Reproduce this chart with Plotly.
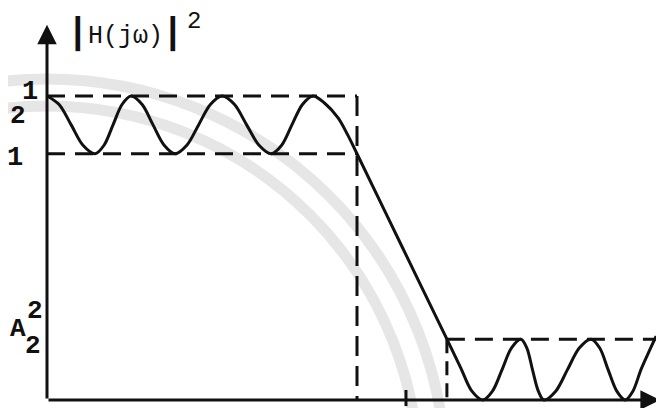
import plotly.graph_objects as go

# ---- data (normalised frequency, |H(jw)|^2) ----
omega = [0.0, 0.039, 0.078, 0.116, 0.155,
         0.184, 0.213, 0.242, 0.271,
         0.307, 0.342, 0.378, 0.413,
         0.451, 0.489, 0.527, 0.565,
         0.605, 0.644, 0.684, 0.723,
         0.757, 0.790, 0.824, 0.858,
         0.895, 0.939, 0.97, 1.0, 1.145, 1.29,
         1.335, 1.37, 1.406,
         1.437, 1.468, 1.498, 1.529,
         1.548, 1.566, 1.585, 1.603,
         1.641, 1.679, 1.717, 1.755,
         1.783, 1.810, 1.838, 1.865,
         1.89, 1.916, 1.94, 1.965]
mag = [1.0, 0.972, 0.905, 0.838, 0.81,
       0.838, 0.905, 0.972, 1.0,
       0.972, 0.905, 0.838, 0.81,
       0.838, 0.905, 0.972, 1.0,
       0.972, 0.905, 0.838, 0.81,
       0.838, 0.905, 0.972, 1.0,
       0.977, 0.928, 0.872, 0.81, 0.505, 0.2,
       0.105, 0.03, 0.0,
       0.029, 0.1, 0.171, 0.2,
       0.171, 0.1, 0.029, 0.0,
       0.029, 0.1, 0.171, 0.2,
       0.171, 0.1, 0.029, 0.0,
       0.029, 0.1, 0.155, 0.21]

pass_top = 1.0          # upper ripple level
pass_low = 0.81         # lower ripple level
stop_level = 0.2        # stop-band level
omega_p = 1.0           # pass-band edge
omega_s = 1.29          # stop-band edge
omega_tick = 1.158      # extra tick mark on the frequency axis
omega_end = 1.977       # end of frequency axis
mag_top = 1.234         # end of magnitude axis

W, H = 664, 408
X0 = [-39 / 310, 625 / 310]
Y0 = [-16 / 304, 392 / 304]


def px(x):
    return x / W


def py(y):
    return 1 - y / H


fig = go.Figure()

black = "#111111"
dash = "18px,10px"

# watermark arcs (drawn first, below everything)
for r in (399, 372):
    fig.add_shape(type="circle", xref="paper", yref="paper",
                  x0=px(39 - r), x1=px(39 + r), y0=py(470 + r), y1=py(470 - r),
                  line=dict(color="#e6e6e6", width=11), layer="below")

# dashed guide lines
fig.add_trace(go.Scatter(x=[0, omega_p], y=[pass_top, pass_top], mode="lines",
                         line=dict(color=black, width=3, dash=dash)))
fig.add_trace(go.Scatter(x=[0, omega_p], y=[pass_low, pass_low], mode="lines",
                         line=dict(color=black, width=3, dash=dash)))
fig.add_trace(go.Scatter(x=[omega_p, omega_p], y=[pass_top, 0], mode="lines",
                         line=dict(color=black, width=3, dash="20px,10px")))
fig.add_trace(go.Scatter(x=[omega_s, omega_end], y=[stop_level, stop_level], mode="lines",
                         line=dict(color=black, width=3, dash=dash)))
fig.add_trace(go.Scatter(x=[omega_s, omega_s], y=[stop_level, 0], mode="lines",
                         line=dict(color=black, width=3, dash="14px,8px")))
# small tick
fig.add_trace(go.Scatter(x=[omega_tick, omega_tick], y=[0.033, -0.02], mode="lines",
                         line=dict(color=black, width=3)))

# response curve
fig.add_trace(go.Scatter(x=omega, y=mag, mode="lines",
                         line=dict(color=black, width=3, shape="spline", smoothing=0.9)))

# axes with arrows
fig.add_annotation(x=0, y=mag_top, ax=0, ay=0, xref="x", yref="y", axref="x", ayref="y",
                   showarrow=True, arrowhead=2, arrowsize=1.3, arrowwidth=3,
                   arrowcolor=black, text="")
fig.add_annotation(x=omega_end, y=0, ax=0, ay=0, xref="x", yref="y", axref="x", ayref="y",
                   showarrow=True, arrowhead=2, arrowsize=1.3, arrowwidth=3,
                   arrowcolor=black, text="")

font = dict(family="Liberation Mono, Courier New, monospace", color=black)


def label(text, x, y, size, bold=False):
    t = f"<b>{text}</b>" if bold else text
    fig.add_annotation(text=t, x=px(x), y=py(y), xref="paper", yref="paper",
                       showarrow=False, xanchor="center", yanchor="middle",
                       font=dict(size=size, **font))


label("|", 70, 25, 36, True)
label("H(jω)", 117, 29, 25)
label("|", 165, 25, 36, True)
label("2", 186, 13, 24)

label("1", 22, 84, 27, True)
label("2", 10, 108, 26, True)
label("1", 7, 150, 27, True)
label("A", 10, 321, 26, True)
label("2", 27, 303, 26, True)
label("2", 25, 338, 26, True)

fig.update_layout(
    width=W, height=H, autosize=False,
    margin=dict(l=0, r=0, t=0, b=0),
    paper_bgcolor="white", plot_bgcolor="white",
    showlegend=False,
    xaxis=dict(range=X0, visible=False, fixedrange=True),
    yaxis=dict(range=Y0, visible=False, fixedrange=True),
)

fig.write_html("out.html")
